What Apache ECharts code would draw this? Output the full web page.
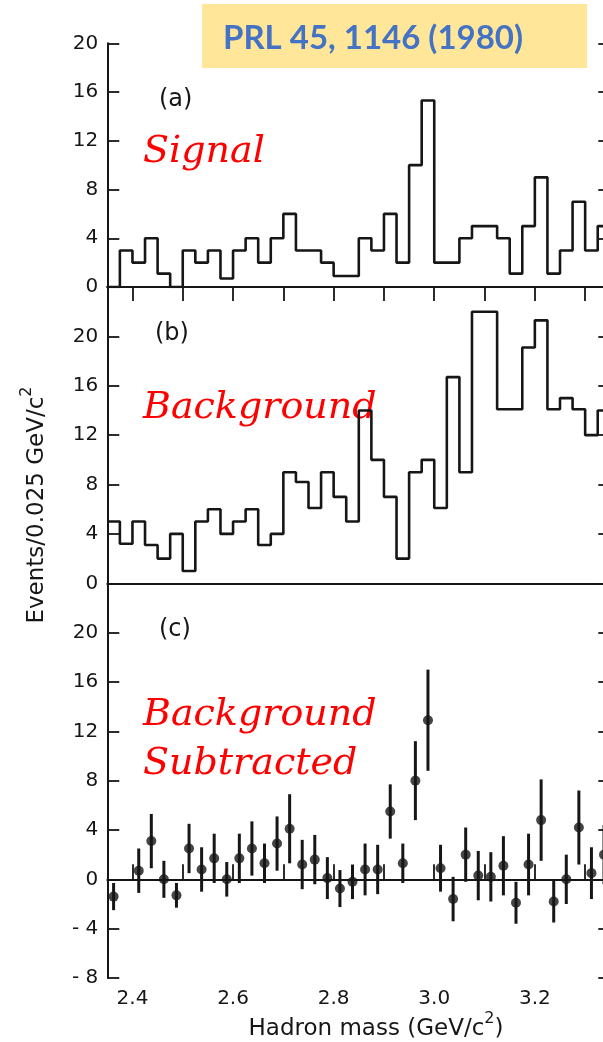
<!DOCTYPE html>
<html>
<head>
<meta charset="utf-8">
<script src="https://cdn.jsdelivr.net/npm/echarts@6/dist/echarts.min.js"></script>
<style>
html,body{margin:0;padding:0;background:#fff;overflow:hidden;width:603px;height:1042px;}
#c{width:612px;height:1042px;}
</style>
</head>
<body>
<div id="c"></div>
<script>
// ---- data ----
const binStart = 2.35;
const binWidth = 0.025;
const signalCounts = [0,3,2,4,1.1,0,3,2,3,0.7,3,4,2,4,6,3,3,2,0.9,0.9,4,3,6,2,10,15.3,2,2,4,5,5,4,1.1,5,9,1.1,3,7,3,5];
const backgroundCounts = [5,3.2,5,3.1,2,4,1,5,6,4,5,6,3.1,4,9,8.2,6.1,9,7,5,14,10,7,2,9,10,6.1,16.7,9,22,22,14.1,14.1,19.1,21.3,14.1,15,14.1,12,14];
const subtractedValues = [-1.4,null,0.7,3.1,0.0,-1.3,2.5,0.8,1.7,0.0,1.7,2.5,1.3,2.9,4.1,1.2,1.6,0.1,-0.75,-0.2,0.8,0.8,5.5,1.3,8.0,12.9,0.9,-1.6,2.0,0.3,0.2,1.1,-1.9,1.2,4.8,-1.8,0.0,4.2,0.5,2.0];
const subtractedErrors = [1.1,null,1.8,2.2,1.5,1.0,2.0,1.8,2.0,1.4,2.0,2.2,1.6,2.2,2.8,2.0,2.0,1.7,1.5,1.4,2.1,2.0,2.2,1.6,3.2,4.1,1.9,1.8,2.2,2.0,2.0,2.4,1.7,2.5,3.3,1.7,2.0,3.0,2.1,2.4];
const xTickValues = [2.4,2.5,2.6,2.7,2.8,2.9,3.0,3.1,3.2,3.3];
const xLabelValues = [2.4,2.6,2.8,3.0,3.2];
const xMin = 2.35, xMax = 3.35;

// ---- build ----
function stepData(counts){
  const pts = [];
  counts.forEach((v,i)=>{
    const e0 = +(binStart + i*binWidth).toFixed(4);
    const e1 = +(binStart + (i+1)*binWidth).toFixed(4);
    pts.push([e0, v]); pts.push([e1, v]);
  });
  return pts;
}
const subPts = [];
subtractedValues.forEach((v,i)=>{
  if (v === null) return;
  subPts.push([+(binStart + (i+0.5)*binWidth).toFixed(4), v, subtractedErrors[i]]);
});

const FONT = 'DejaVu Sans';
const INK = '#161616';
const GL = 107.3, GR = 1.7;
const grids = [
  {left:GL, right:GR, top:43.3, height:243.7},
  {left:GL, right:GR, top:287, height:296.3},
  {left:GL, right:GR, top:583.3, height:394.7}
];
const axisLine = {show:true, lineStyle:{color:INK, width:2}};
function xAx(grid, opts){
  return Object.assign({
    type:'value', gridIndex:grid, min:xMin, max:xMax, position:'bottom',
    axisLine: axisLine, axisTick:{show:false}, axisLabel:{show:false}, splitLine:{show:false}
  }, opts||{});
}
function yAx(grid, min, max, side, labels, hideVals){
  return {
    type:'value', gridIndex:grid, min:min, max:max, interval:4, position:side,
    axisLine: axisLine,
    axisTick:{show:true, inside:true, length:12, lineStyle:{color:INK, width:1.8}},
    axisLabel:{show:labels, margin:9, color:INK, fontFamily:FONT, fontSize:20,
      formatter:function(v){ if (hideVals.indexOf(v)>=0) return ''; return v<0 ? '- '+Math.abs(v) : String(v);} },
    splitLine:{show:false}
  };
}
const option = {
  animation:false,
  backgroundColor:'#fff',
  grid: grids,
  xAxis: [
    xAx(0),
    xAx(0, {position:'top', axisTick:{show:true, inside:true, length:14, customValues:xTickValues, lineStyle:{color:INK,width:1.8}}}),
    xAx(1),
    xAx(2, {
      axisTick:{show:true, inside:true, length:15, customValues:xTickValues, lineStyle:{color:INK,width:1.8}},
      axisLabel:{show:true, customValues:xLabelValues, margin:11, color:INK, fontFamily:FONT, fontSize:20,
        formatter:function(v){return v.toFixed(1);}}
    })
  ],
  yAxis: [
    yAx(0, 0, 20, 'left', true, []),
    yAx(0, 0, 20, 'right', false, []),
    yAx(1, 0, 24, 'left', true, [24]),
    yAx(1, 0, 24, 'right', false, []),
    yAx(2, -8, 24, 'left', true, [24]),
    yAx(2, -8, 24, 'right', false, [])
  ],
  series: [
    {type:'line', xAxisIndex:0, yAxisIndex:0, data:stepData(signalCounts), symbol:'none',
      lineStyle:{color:INK, width:2.6}, clip:true},
    {type:'line', xAxisIndex:2, yAxisIndex:2, data:stepData(backgroundCounts), symbol:'none',
      lineStyle:{color:INK, width:2.6}, clip:true},
    {type:'custom', xAxisIndex:3, yAxisIndex:4, data:subPts,
      renderItem:function(params, api){
        const x = api.value(0), y = api.value(1), e = api.value(2);
        const t = api.coord([x, y+e]), b = api.coord([x, y-e]);
        return {type:'line', shape:{x1:t[0], y1:t[1], x2:b[0], y2:b[1]}, style:{stroke:INK, lineWidth:3}};
      },
      markLine:{silent:true, symbol:'none', label:{show:false}, lineStyle:{color:INK, width:1.6, type:'solid'},
        data:[{yAxis:0}]}
    },
    {type:'scatter', xAxisIndex:3, yAxisIndex:4, data:subPts.map(p=>[p[0],p[1]]), symbol:'circle', symbolSize:10,
      itemStyle:{color:INK}}
  ],
  graphic: [
    {type:'text', x:159, y:100, style:{text:'(a)', font:'24px "DejaVu Sans"', fill:INK, verticalAlign:'middle'}},
    {type:'text', x:155, y:334, style:{text:'(b)', font:'24px "DejaVu Sans"', fill:INK, verticalAlign:'middle'}},
    {type:'text', x:159, y:630, style:{text:'(c)', font:'24px "DejaVu Sans"', fill:INK, verticalAlign:'middle'}},
    {type:'text', x:143, y:152, style:{text:'Signal', font:'italic 38px "DejaVu Serif"', fill:'#ff0000', verticalAlign:'middle'}},
    {type:'text', x:143, y:408, style:{text:'Background', font:'italic 38px "DejaVu Serif"', fill:'#ff0000', verticalAlign:'middle'}},
    {type:'text', x:143, y:715, style:{text:'Background', font:'italic 38px "DejaVu Serif"', fill:'#ff0000', verticalAlign:'middle'}},
    {type:'text', x:143, y:764, style:{text:'Subtracted', font:'italic 38px "DejaVu Serif"', fill:'#ff0000', verticalAlign:'middle'}},
    {type:'text', x:376, y:1026, style:{
      text:'{a|Hadron mass (GeV/c}{s|2}{a|)}', align:'center', verticalAlign:'middle',
      rich:{a:{fontFamily:FONT, fontSize:23, lineHeight:30, verticalAlign:'bottom', fill:INK, color:INK},
            s:{fontFamily:FONT, fontSize:16, lineHeight:16, verticalAlign:'top', fill:INK, color:INK}}}},
    {type:'text', x:34, y:505, rotation:Math.PI/2, style:{
      text:'{a|Events/0.025 GeV/c}{s|2}', align:'center', verticalAlign:'middle',
      rich:{a:{fontFamily:FONT, fontSize:23, lineHeight:30, verticalAlign:'bottom', fill:INK, color:INK},
            s:{fontFamily:FONT, fontSize:16, lineHeight:16, verticalAlign:'top', fill:INK, color:INK}}}},
    {type:'rect', z:100, shape:{x:202, y:4, width:385, height:64}, style:{fill:'#FFE699'}},
    {type:'text', z:101, x:373, y:38, style:{text:'PRL 45, 1146 (1980)', font:'bold 33px Lato', fill:'#4472C4', align:'center', verticalAlign:'middle'}}
  ]
};
const chart = echarts.init(document.getElementById('c'), null, {renderer:'canvas'});
chart.setOption(option);
</script>
</body>
</html>
